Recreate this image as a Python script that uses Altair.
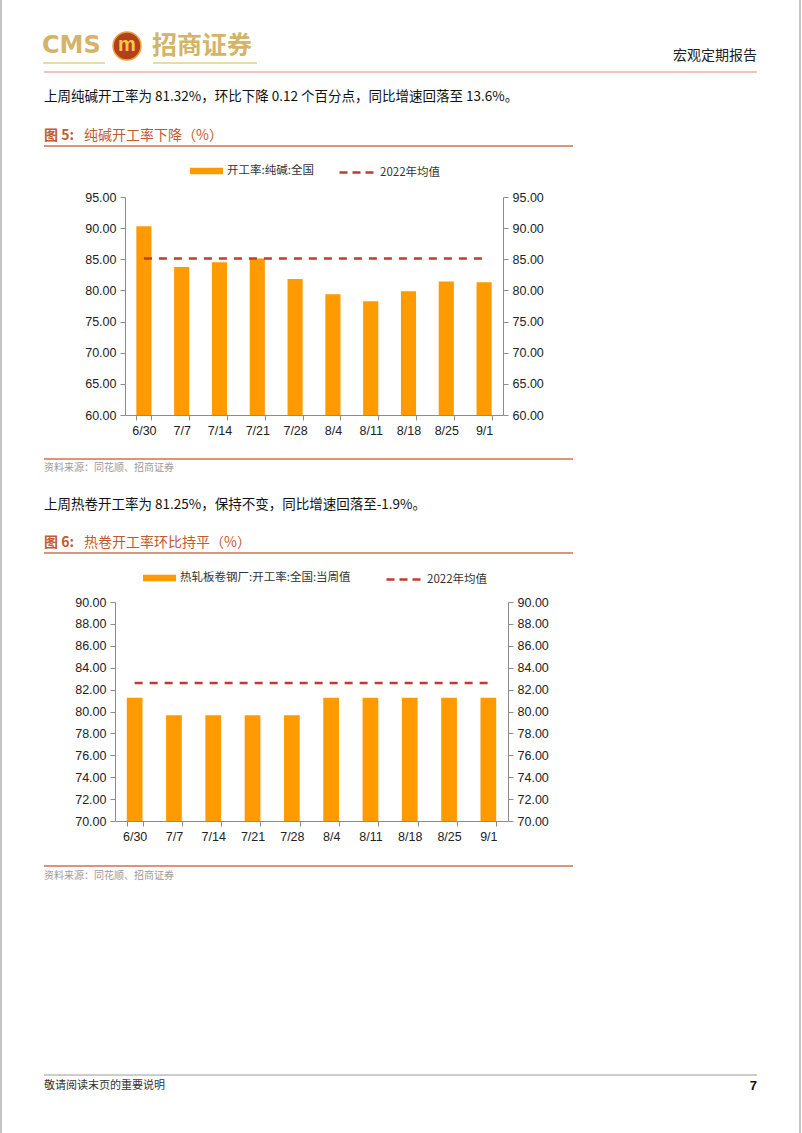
import altair as alt
import pandas as pd

# ---------------- data ----------------
dates = ["6/30", "7/7", "7/14", "7/21", "7/28", "8/4", "8/11", "8/18", "8/25", "9/1"]
soda_rate = [90.30, 83.78, 84.52, 85.11, 81.85, 79.40, 78.27, 79.87, 81.44, 81.32]
soda_mean_2022 = 85.11
soda_name = "开工率:纯碱:全国"
hrc_rate = [81.25, 79.65, 79.65, 79.65, 79.65, 81.25, 81.25, 81.25, 81.25, 81.25]
hrc_mean_2022 = 82.61
hrc_name = "热轧板卷钢厂:开工率:全国:当周值"
mean_name = "2022年均值"
soda_ticks = [60, 65, 70, 75, 80, 85, 90, 95]
hrc_ticks = [70, 72, 74, 76, 78, 80, 82, 84, 86, 88, 90]

W, H = 802, 1133
ORANGE = "#FF9A00"
RED = "#C33A32"
GOLD = "#D4B468"
TITLE_C = "#C35A2E"
RULE_C = "#D0704E"
CJK = "Noto Sans CJK SC"
LAT = "Liberation Sans"


def txt(s, x, y, size=13.5, color="#111", align="left", weight="normal", font=CJK, baseline="middle"):
    return alt.Chart(pd.DataFrame({"t": [s]})).mark_text(
        align=align, baseline=baseline, fontSize=size, color=color, fontWeight=weight, font=font
    ).encode(x=alt.value(x), y=alt.value(y), text="t:N")


def hline(x1, x2, y, color=RULE_C, width=1.2):
    return alt.Chart(pd.DataFrame({"a": [0]})).mark_rule(color=color, strokeWidth=width).encode(
        x=alt.value(x1), x2=alt.value(x2), y=alt.value(y)
    )


def vline(x, y1, y2, color="#8a8a8a", width=1):
    return alt.Chart(pd.DataFrame({"a": [0]})).mark_rule(color=color, strokeWidth=width).encode(
        x=alt.value(x), y=alt.value(y1), y2=alt.value(y2)
    )


axis_common = dict(
    labelFont=LAT, labelFontSize=12.5, labelColor="#222", domainColor="#8c8c8c",
    tickColor="#8c8c8c", tickSize=5, grid=False, title=None, labelPadding=4,
)


def bar_panel(values, name, mean_val, ticks, x_rng, y_rng, leg_bar, leg_line):
    df = pd.DataFrame({"date": dates, "v": values, "s": [name] * len(dates)})
    rdf = pd.DataFrame({"a": [dates[0]], "b": [dates[-1]], "m": [mean_val], "s": [mean_name]})
    dom = [ticks[0], ticks[-1]]
    xs = alt.Scale(type="band", domain=dates, range=x_rng, paddingInner=0.6, paddingOuter=0.3)
    ys = alt.Scale(domain=dom, range=y_rng, zero=False, nice=False)
    off_left = -x_rng[0]
    off_right = x_rng[1] - W
    off_bottom = y_rng[0] - H
    bars = alt.Chart(df).mark_bar(color=ORANGE).encode(
        x=alt.X("date:N", scale=xs, sort=dates,
                axis=alt.Axis(orient="bottom", offset=off_bottom, labelAngle=0, tickBand="extent",
                              **axis_common)),
        y=alt.Y("v:Q", scale=ys,
                axis=alt.Axis(orient="left", offset=off_left, values=ticks, format=".2f", **axis_common)),
        y2=alt.datum(ticks[0]),
        color=alt.Color("s:N", scale=alt.Scale(domain=[name], range=[ORANGE]),
                        legend=alt.Legend(orient="none", legendX=leg_bar[0], legendY=leg_bar[1], title=None,
                                          padding=0, symbolType="M-1,-0.2H1V0.2H-1Z", symbolSize=1089,
                                          symbolStrokeWidth=0, labelFont=CJK, labelFontSize=11.5,
                                          labelColor="#333", labelOffset=4, labelLimit=0)),
    )
    rule = alt.Chart(rdf).mark_rule(strokeWidth=2.5, strokeDash=[8, 7]).encode(
        x=alt.X("a:N", scale=xs, axis=None),
        x2="b:N",
        y=alt.Y("m:Q", scale=ys,
                axis=alt.Axis(orient="right", offset=off_right, values=ticks, format=".2f", **axis_common)),
        color=alt.Color("s:N", scale=alt.Scale(domain=[mean_name], range=[RED]),
                        legend=alt.Legend(orient="none", legendX=leg_line[0], legendY=leg_line[1], title=None,
                                          padding=0, symbolType="stroke", symbolSize=1225,
                                          symbolStrokeWidth=2.5, symbolDash=[8, 5], labelFont=CJK,
                                          labelFontSize=11.5, labelColor="#333", labelOffset=4,
                                          labelLimit=0)),
    )
    return [bars, rule]


layers = []
# page borders
layers += [vline(1, 0, H), vline(800, 0, H)]
# header
layers.append(txt("CMS", 42, 46, size=24, color=GOLD, weight="bold", font="DejaVu Sans"))
logo = alt.Chart(pd.DataFrame({"a": [0]})).mark_point(
    filled=True, shape="circle", size=780, color="#B3401C", stroke="#E9A23B", strokeWidth=1.5, opacity=1
).encode(x=alt.value(127), y=alt.value(46))
layers.append(logo)
layers.append(txt("m", 127, 45, size=20, color="#F6C84A", weight="bold", align="center", font=LAT))
layers.append(txt("招商证券", 152, 46, size=25, color=GOLD, weight="bold"))
layers += [hline(43, 105, 63, color="#E3CC8E", width=1.5), hline(153, 257, 63, color="#E3CC8E", width=1.5)]
layers.append(txt("宏观定期报告", 757, 56, size=14, color="#222", align="right"))
layers.append(hline(44, 757, 72, color="#E08A74", width=1.2))

# first section
layers.append(txt("上周纯碱开工率为 81.32%，环比下降 0.12 个百分点，同比增速回落至 13.6%。", 44, 97, size=13.5))
layers.append(txt("图 5:", 44, 136, size=14, color=TITLE_C, weight="bold"))
layers.append(txt("纯碱开工率下降（%）", 84, 136, size=14, color=TITLE_C))
layers.append(hline(44, 573, 146, width=1.5))
layers += bar_panel(soda_rate, soda_name, soda_mean_2022, soda_ticks, [125, 503], [415, 197],
                    (190, 154.5), (338, 153.5))
layers.append(hline(44, 573, 459, width=1.5))
layers.append(txt("资料来源：同花顺、招商证券", 44, 468, size=10, color="#9a9a9a"))

# second section
layers.append(txt("上周热卷开工率为 81.25%，保持不变，同比增速回落至-1.9%。", 44, 505, size=13.5))
layers.append(txt("图 6:", 44, 543, size=14, color=TITLE_C, weight="bold"))
layers.append(txt("热卷开工率环比持平（%）", 84, 543, size=14, color=TITLE_C))
layers.append(hline(44, 573, 553, width=1.5))
layers += bar_panel(hrc_rate, hrc_name, hrc_mean_2022, hrc_ticks, [115, 508], [821, 602],
                    (143, 561.5), (385, 560.5))
layers.append(hline(44, 573, 866, width=1.5))
layers.append(txt("资料来源：同花顺、招商证券", 44, 876, size=10, color="#9a9a9a"))

# footer
layers.append(hline(44, 757, 1075, color="#9a9a9a", width=1))
layers.append(txt("敬请阅读末页的重要说明", 44, 1086, size=11, color="#333"))
layers.append(txt("7", 757, 1086, size=13, color="#111", weight="bold", align="right", font=LAT))

chart = alt.layer(*layers).resolve_scale(
    x="independent", y="independent", color="independent"
).resolve_axis(x="independent", y="independent").resolve_legend(color="independent").properties(
    width=W, height=H, autosize=alt.AutoSizeParams(type="none"), padding=0, background="white"
).configure_view(stroke=None)

chart.save("out.html", embed_options={"renderer": "svg", "actions": False})
